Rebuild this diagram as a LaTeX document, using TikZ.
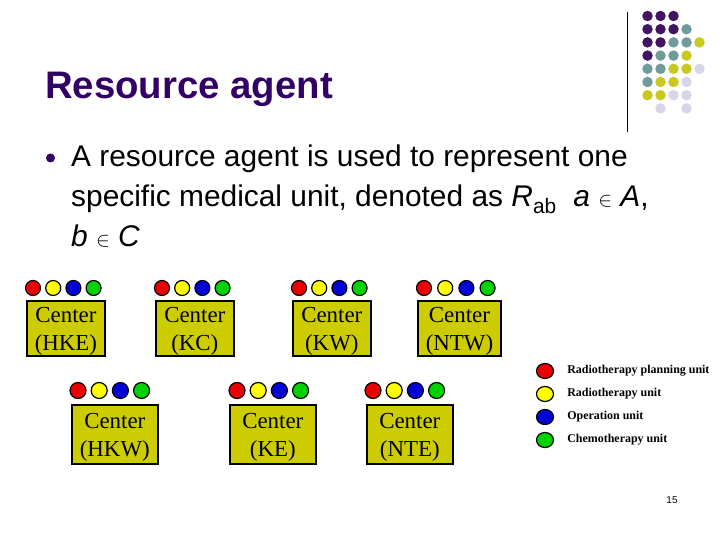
\documentclass[tikz,border=0pt]{standalone}
\usepackage{fontspec}
\setmainfont{Liberation Sans}
\newfontfamily\timesfont{Liberation Serif}
\usepackage{tikz}
\usepackage{xcolor}
\usetikzlibrary{positioning, shapes.geometric}
\definecolor{titlepurple}{RGB}{51, 0, 102}
\definecolor{boxolive}{RGB}{204, 204, 0}
\definecolor{unitred}{RGB}{235, 0, 0}
\definecolor{unityellow}{RGB}{255, 255, 0}
\definecolor{unitblue}{RGB}{0, 0, 215}
\definecolor{unitgreen}{RGB}{0, 210, 0}
\definecolor{decoP}{RGB}{66, 20, 100}
\definecolor{decoT}{RGB}{112, 155, 155}
\definecolor{decoY}{RGB}{200, 200, 30}
\definecolor{decoL}{RGB}{214, 214, 232}

\begin{document}
\begin{tikzpicture}[
    x=1bp, y=-1bp,
    unitbox/.style={draw=black, line width=1.6pt, fill=boxolive, align=center, font=\timesfont\fontsize{23}{28}\selectfont, inner xsep=8pt, inner ysep=0pt, minimum width=78bp, minimum height=55bp, anchor=north west},
    widebox/.style={unitbox, minimum width=86bp, minimum height=59bp},
    unitdot/.style={circle, draw=black, line width=1.2pt, minimum size=15bp, inner sep=0pt},
    bigdot/.style={unitdot, minimum size=16bp},
    legenddot/.style={ellipse, draw=black, line width=1.2pt, minimum width=17bp, minimum height=15bp, inner sep=0pt},
    legendtext/.style={font=\timesfont\bfseries\fontsize{12}{14}\selectfont, inner sep=0pt},
    bodytext/.style={anchor=base west, inner sep=0pt, font=\fontsize{30}{34}\selectfont},
    deco/.style={circle, minimum size=10.5bp, inner sep=0pt}
]
\fill[white] (0,0) rectangle (720,540);
\useasboundingbox (0,0) rectangle (720,540);

% Corner decoration
\coordinate (rule-top) at (627,12);
\coordinate (rule-bot) at (627,132);
\draw[line width=1pt] (rule-top) -- (rule-bot);
\foreach \cx/\cy/\c in {0/0/P,1/0/P,2/0/P, 0/1/P,1/1/P,2/1/P,3/1/T, 0/2/P,1/2/P,2/2/T,3/2/T,4/2/Y,
    0/3/P,1/3/T,2/3/T,3/3/Y, 0/4/T,1/4/T,2/4/Y,3/4/Y,4/4/L, 0/5/T,1/5/Y,2/5/Y,3/5/L,
    0/6/Y,1/6/Y,2/6/L,3/6/L, 1/7/L,3/7/L}
    \node[deco, fill=deco\c] (deco-\cx-\cy) at (647.5+13*\cx, 16+13.2*\cy) {};

% Title and text
\node[anchor=base west, inner sep=0pt, text=titlepurple, font=\bfseries\fontsize{38.5}{42}\selectfont] (title) at (45,99) {Resource agent};
\node[circle, fill=titlepurple, minimum size=9bp, inner sep=0pt] (bullet) at (50.5,158) {};
\node[bodytext] (line1) at (71,167) {A resource agent is used to represent one};
\node[bodytext] (line2) at (71,207) {specific medical unit, denoted as \textit{R}\textsubscript{ab}\ \ \textit{a} {\fontsize{21}{21}\selectfont$\in$} \textit{A},};
\node[bodytext] (line3) at (71,247) {\textit{b} {\fontsize{21}{21}\selectfont$\in$} \textit{C}};

% Top row of centers
\node[unitbox] (hke) at (26,300) {\rule{0pt}{21pt}Center\\(HKE)};
\node[unitdot, fill=unitred] (hke-r) at (33,288) {};
\node[unitdot, fill=unityellow, right=4bp of hke-r] (hke-y) {};
\node[unitdot, fill=unitblue, right=4bp of hke-y] (hke-b) {};
\node[unitdot, fill=unitgreen, right=4bp of hke-b] (hke-g) {};

\node[unitbox] (kc) at (155,300) {\rule{0pt}{21pt}Center\\(KC)};
\node[unitdot, fill=unitred] (kc-r) at (162,288) {};
\node[unitdot, fill=unityellow, right=4bp of kc-r] (kc-y) {};
\node[unitdot, fill=unitblue, right=4bp of kc-y] (kc-b) {};
\node[unitdot, fill=unitgreen, right=4bp of kc-b] (kc-g) {};

\node[unitbox] (kw) at (292,300) {\rule{0pt}{21pt}Center\\(KW)};
\node[unitdot, fill=unitred] (kw-r) at (299,288) {};
\node[unitdot, fill=unityellow, right=4bp of kw-r] (kw-y) {};
\node[unitdot, fill=unitblue, right=4bp of kw-y] (kw-b) {};
\node[unitdot, fill=unitgreen, right=4bp of kw-b] (kw-g) {};

\node[unitbox] (ntw) at (417,300) {\rule{0pt}{21pt}Center\\(NTW)};
\node[unitdot, fill=unitred] (ntw-r) at (424,288) {};
\node[unitdot, fill=unityellow, right=5bp of ntw-r] (ntw-y) {};
\node[unitdot, fill=unitblue, right=5bp of ntw-y] (ntw-b) {};
\node[unitdot, fill=unitgreen, right=5bp of ntw-b] (ntw-g) {};

% Bottom row of centers
\node[widebox] (hkw) at (71,404) {\rule{0pt}{21pt}Center\\(HKW)};
\node[bigdot, fill=unitred] (hkw-r) at (78,390.5) {};
\node[bigdot, fill=unityellow, right=4bp of hkw-r] (hkw-y) {};
\node[bigdot, fill=unitblue, right=4bp of hkw-y] (hkw-b) {};
\node[bigdot, fill=unitgreen, right=4bp of hkw-b] (hkw-g) {};

\node[widebox] (ke) at (229,404) {\rule{0pt}{21pt}Center\\(KE)};
\node[bigdot, fill=unitred] (ke-r) at (237,390.5) {};
\node[bigdot, fill=unityellow, right=4bp of ke-r] (ke-y) {};
\node[bigdot, fill=unitblue, right=4bp of ke-y] (ke-b) {};
\node[bigdot, fill=unitgreen, right=4bp of ke-b] (ke-g) {};

\node[widebox] (nte) at (366,404) {\rule{0pt}{21pt}Center\\(NTE)};
\node[bigdot, fill=unitred] (nte-r) at (373,390.5) {};
\node[bigdot, fill=unityellow, right=4bp of nte-r] (nte-y) {};
\node[bigdot, fill=unitblue, right=4bp of nte-y] (nte-b) {};
\node[bigdot, fill=unitgreen, right=4bp of nte-b] (nte-g) {};

% Legend
\node[legenddot, fill=unitred] (leg-r) at (545,371) {};
\node[legenddot, fill=unityellow] (leg-y) at (545,394) {};
\node[legenddot, fill=unitblue] (leg-b) at (545,417) {};
\node[legenddot, fill=unitgreen] (leg-g) at (545,440) {};
\node[legendtext, right=13bp of leg-r] (leg-r-text) {Radiotherapy planning unit};
\node[legendtext, right=13bp of leg-y] (leg-y-text) {Radiotherapy unit};
\node[legendtext, right=13bp of leg-b] (leg-b-text) {Operation unit};
\node[legendtext, right=13bp of leg-g] (leg-g-text) {Chemotherapy unit};

\node[font=\fontsize{10}{12}\selectfont] (pagenum) at (672,500) {15};

\end{tikzpicture}
\end{document}
